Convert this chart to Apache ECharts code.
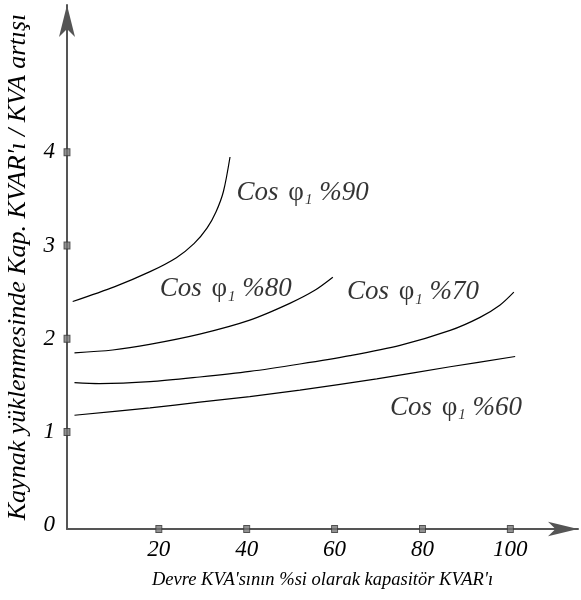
<!DOCTYPE html>
<html>
<head>
<meta charset="utf-8">
<script src="https://cdn.jsdelivr.net/npm/echarts@6/dist/echarts.min.js"></script>
<style>
  html, body { margin: 0; padding: 0; background: #fff; }
  #main { width: 581px; height: 600px; }
</style>
</head>
<body>
<div id="main"></div>
<script>
// curves: [x %, y]
var cos90 = [[0.4, 2.40], [10, 2.56], [18, 2.72], [24, 2.87], [28, 3.02], [31, 3.19], [33, 3.36], [34.7, 3.58], [36.2, 3.95]];
var cos80 = [[0.8, 1.85], [9.5, 1.88], [17.9, 1.94], [29.3, 2.05], [40.7, 2.20], [49.8, 2.38], [55.5, 2.52], [59.6, 2.66]];
var cos70 = [[0.8, 1.53], [6.5, 1.52], [18, 1.54], [29.3, 1.59], [40.7, 1.65], [52.1, 1.73], [63.5, 1.82], [74.9, 1.93], [86.3, 2.09], [93.1, 2.23], [97.6, 2.36], [100.8, 2.50]];
var cos60 = [[0.8, 1.18], [18, 1.26], [29.3, 1.32], [40.7, 1.38], [52.1, 1.45], [69.6, 1.57], [86.3, 1.70], [101.1, 1.81]];

var xTicks = [20, 40, 60, 80, 100];
var yTicks = [0, 1, 2, 3, 4];
var curveNames = ['%90', '%80', '%70', '%60'];

var xMin = -0.9, xMax = 115.4;
var yMin = -0.04, yMax = 5.58;

var font = '"Liberation Serif", "Times New Roman", serif';

var chart = echarts.init(document.getElementById('main'));

function curve(data) {
  return {
    type: 'line',
    data: data,
    smooth: 0.3,
    symbol: 'none',
    lineStyle: { color: '#000', width: 1.2 },
    silent: true
  };
}

// label anchors in data units: left edge, vertical middle
var labelAt = [[37.7, 3.57], [20.2, 2.53], [62.8, 2.50], [72.6, 1.26]];

var labelSeries = {
  type: 'scatter',
  symbolSize: 0,
  silent: true,
  data: labelAt.map(function (p, i) { return { value: p, name: curveNames[i] }; }),
  label: {
    show: true,
    position: 'inside',
    align: 'left',
    verticalAlign: 'middle',
    formatter: function (p) { return '{t|Cos }{phi|φ}{sub|1}{t| ' + p.name + '}'; },
    rich: {
      t: { fontFamily: font, fontStyle: 'italic', fontSize: 27, color: '#000' },
      phi: { fontFamily: font, fontSize: 27, color: '#000', padding: [0, 0, 0, 3] },
      sub: { fontFamily: font, fontStyle: 'italic', fontSize: 15, color: '#000', padding: [15, 0, 0, 1] }
    }
  }
};

var tickStyle = { color: '#777', borderColor: '#333', borderWidth: 1 };

var option = {
  animation: false,
  grid: { left: 67, right: 3, top: 5, bottom: 71, outerBoundsMode: 'none', containLabel: false },
  xAxis: {
    type: 'value',
    min: xMin,
    max: xMax,
    name: "Devre KVA'sının %si olarak kapasitör KVAR'ı",
    nameLocation: 'middle',
    nameGap: 42,
    nameTextStyle: { fontFamily: font, fontStyle: 'italic', fontSize: 18.5, color: '#000' },
    axisLine: { onZero: false, lineStyle: { color: '#555', width: 2 }, symbol: ['none', 'arrow'], symbolSize: [11, 30] },
    axisTick: { show: false },
    splitLine: { show: false },
    axisLabel: {
      customValues: xTicks,
      margin: 9,
      fontFamily: font, fontStyle: 'italic', fontSize: 23, color: '#000'
    }
  },
  yAxis: {
    type: 'value',
    min: yMin,
    max: yMax,
    name: "Kaynak yüklenmesinde Kap. KVAR'ı / KVA artışı",
    nameLocation: 'middle',
    nameRotate: 90,
    nameGap: 36,
    nameTextStyle: { fontFamily: font, fontStyle: 'italic', fontSize: 26, color: '#000' },
    axisLine: { onZero: false, lineStyle: { color: '#555', width: 2 }, symbol: ['none', 'arrow'], symbolSize: [12, 32] },
    axisTick: { show: false },
    splitLine: { show: false },
    axisLabel: {
      customValues: yTicks,
      margin: 12,
      fontFamily: font, fontStyle: 'italic', fontSize: 23, color: '#000'
    }
  },
  series: [
    curve(cos90),
    curve(cos80),
    curve(cos70),
    curve(cos60),
    labelSeries,
    {
      type: 'scatter',
      symbol: 'rect',
      symbolSize: [6, 7],
      itemStyle: tickStyle,
      silent: true,
      z: 5,
      data: yTicks.filter(function (v) { return v > 0; }).map(function (v) { return [xMin, v]; })
        .concat(xTicks.map(function (v) { return [v, yMin]; }))
    }
  ]
};

chart.setOption(option);
</script>
</body>
</html>
